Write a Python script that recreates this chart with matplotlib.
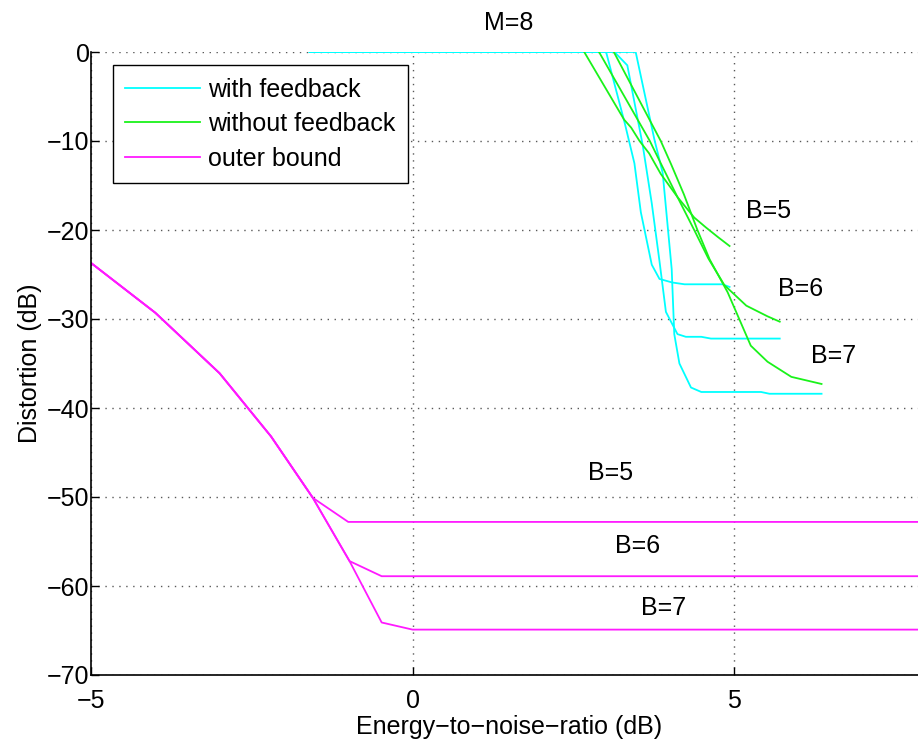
import matplotlib
matplotlib.use("Agg")
import matplotlib.pyplot as plt

plt.rcParams['font.family'] = ['Liberation Sans', 'DejaVu Sans']
plt.rcParams['font.size'] = 18

# with feedback (cyan), one curve per B
fb_x_b5 = [-1.6, 3.01, 3.30, 3.45, 3.55, 3.72, 3.84, 4.04, 4.23, 4.82, 4.93]
fb_y_b5 = [0, 0, -8.0, -12.5, -18.0, -23.9, -25.5, -25.9, -26.1, -26.1, -26.4]
fb_x_b6 = [-1.6, 3.14, 3.34, 3.58, 3.72, 3.84, 3.94, 4.12, 4.25, 4.49, 4.64, 5.71]
fb_y_b6 = [0, 0, -1.5, -10.5, -17.0, -23.5, -29.2, -31.7, -32.0, -32.0, -32.2, -32.2]
fb_x_b7 = [-1.6, 3.47, 3.76, 3.89, 4.03, 4.07, 4.15, 4.33, 4.49, 5.42, 5.55, 6.36]
fb_y_b7 = [0, 0, -9.8, -13.6, -24.4, -31.7, -35.0, -37.7, -38.2, -38.2, -38.4, -38.4]

# without feedback (green)
nofb_x_b5 = [2.67, 3.29, 3.40, 3.53, 3.68, 3.86, 4.12, 4.38, 4.56, 4.75, 4.93]
nofb_y_b5 = [0, -7.6, -8.5, -10.0, -11.4, -13.7, -16.3, -18.6, -19.7, -20.8, -21.8]
nofb_x_b6 = [2.90, 3.69, 3.88, 4.12, 4.38, 4.60, 4.85, 5.19, 5.52, 5.71]
nofb_y_b6 = [0, -10.0, -12.8, -16.3, -20.0, -23.2, -26.2, -28.5, -29.7, -30.3]
nofb_x_b7 = [3.13, 3.86, 4.02, 4.22, 4.43, 4.62, 4.90, 5.26, 5.52, 5.89, 6.36]
nofb_y_b7 = [0, -10.0, -12.6, -16.0, -20.0, -23.3, -27.0, -33.0, -34.8, -36.5, -37.3]

# outer bound (magenta)
ob_x_b5 = [-5, -4, -3, -2.2, -1.55, -1.0, 8]
ob_y_b5 = [-23.7, -29.3, -36.1, -43.2, -50.1, -52.8, -52.8]
ob_x_b6 = [-5, -4, -3, -2.2, -1.55, -0.98, -0.48, 8]
ob_y_b6 = [-23.7, -29.3, -36.1, -43.2, -50.1, -57.2, -58.9, -58.9]
ob_x_b7 = [-5, -4, -3, -2.2, -1.55, -0.98, -0.48, 0, 8]
ob_y_b7 = [-23.7, -29.3, -36.1, -43.2, -50.1, -57.2, -64.1, -64.9, -64.9]

labels_b = ["B=5", "B=6", "B=7"]
labels_top_pos = [(5.53, -17.9), (6.04, -26.6), (6.54, -34.2)]
labels_low_pos = [(3.08, -47.3), (3.50, -55.5), (3.91, -62.5)]

fig = plt.figure(figsize=(9.18, 7.47), dpi=100)
ax = fig.add_axes([91/918, 72/747, 836/918, 623/747])

cyan = (0, 1, 1)
green = (0.1, 0.95, 0.1)
magenta = (1, 0.1, 1)
lw = 1.3

ax.plot(fb_x_b5, fb_y_b5, color=cyan, lw=lw, label='with feedback')
ax.plot(fb_x_b6, fb_y_b6, color=cyan, lw=lw)
ax.plot(fb_x_b7, fb_y_b7, color=cyan, lw=lw)
ax.plot(nofb_x_b5, nofb_y_b5, color=green, lw=lw, label='without feedback')
ax.plot(nofb_x_b6, nofb_y_b6, color=green, lw=lw)
ax.plot(nofb_x_b7, nofb_y_b7, color=green, lw=lw)
ax.plot(ob_x_b5, ob_y_b5, color=magenta, lw=lw, label='outer bound')
ax.plot(ob_x_b6, ob_y_b6, color=magenta, lw=lw)
ax.plot(ob_x_b7, ob_y_b7, color=magenta, lw=lw)

for txt, (x, y) in zip(labels_b, labels_top_pos):
    ax.text(x, y, txt, ha='center', va='center')
for txt, (x, y) in zip(labels_b, labels_low_pos):
    ax.text(x, y, txt, ha='center', va='center')

ax.set_xlim(-5, 8)
ax.set_ylim(-70, 0)
ax.set_xticks([-5, 0, 5])
ax.set_yticks(range(-70, 1, 10))
ax.grid(True, color='0.35', linestyle=(0, (1, 4)), linewidth=1)
ax.tick_params(direction='in', length=6, width=1, top=False, right=False)
ax.tick_params(axis='y', pad=1)
ax.tick_params(axis='x', pad=10)
for side in ['top', 'right']:
    ax.spines[side].set_visible(False)
for side in ['left', 'bottom']:
    ax.spines[side].set_linewidth(1.2)

ax.text(0.5, 1.046, 'M=8', transform=ax.transAxes, ha='center', va='center')
ax.set_xlabel('Energy\u2212to\u2212noise\u2212ratio (dB)', va='center')
ax.xaxis.set_label_coords(0.5, -0.084)
ax.set_ylabel('Distortion (dB)', va='center')
ax.yaxis.set_label_coords(-0.073, 0.5)

leg = ax.legend(loc='upper left', bbox_to_anchor=(0.026, 0.979), borderaxespad=0,
                fancybox=False, edgecolor='black', framealpha=1,
                handlelength=3.0, handletextpad=0.3, labelspacing=0.42, borderpad=0.5)
leg.get_frame().set_linewidth(1.0)

fig.savefig('out.png', dpi=100)
